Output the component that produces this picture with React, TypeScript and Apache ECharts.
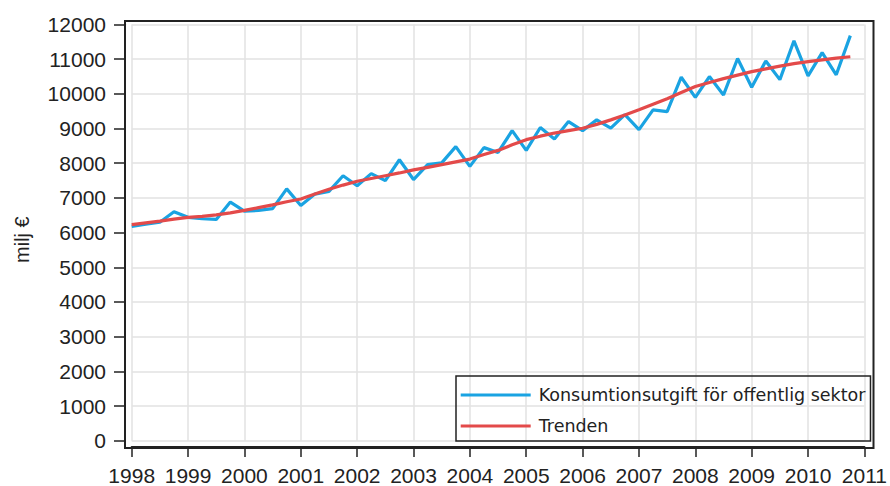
import React, { useEffect, useRef } from "react";
import * as echarts from "echarts";

const years = [1998, 1999, 2000, 2001, 2002, 2003, 2004, 2005, 2006, 2007, 2008, 2009, 2010];
const quarters = [1, 2, 3, 4];

const konsumtion = [
  6180, 6240, 6300, 6600,
  6440, 6400, 6380, 6880,
  6620, 6640, 6690, 7260,
  6780, 7110, 7190, 7640,
  7350, 7700, 7500, 8100,
  7530, 7960, 8010, 8480,
  7910, 8450, 8310, 8940,
  8370, 9030, 8700, 9200,
  8940, 9250, 9010, 9400,
  8970, 9540, 9490, 10480,
  9900, 10500, 9970, 11020,
  10190, 10950, 10410, 11530,
  10520, 11190, 10550, 11680,
];

const trenden = [
  6230, 6280, 6330, 6390,
  6440, 6470, 6510, 6570,
  6640, 6720, 6800, 6890,
  6970, 7110, 7250, 7370,
  7480, 7560, 7640, 7720,
  7810, 7880, 7960, 8040,
  8120, 8250, 8370, 8530,
  8680, 8780, 8870, 8940,
  9010, 9120, 9250, 9390,
  9540, 9700, 9860, 10040,
  10210, 10330, 10440, 10540,
  10640, 10720, 10800, 10870,
  10930, 10980, 11030, 11070,
];

const seriesNames = ["Konsumtionsutgift för offentlig sektor", "Trenden"];
const yAxisName = "milj €";

const xPositions: number[] = [];
years.forEach((y) => quarters.forEach((q) => xPositions.push(y + (q - 1) / 4)));

export default function App() {
  const ref = useRef<HTMLDivElement>(null);
  useEffect(() => {
    if (!ref.current) return;
    const chart = echarts.init(ref.current, null, { renderer: "svg" });
    const axisFont = { fontFamily: "Liberation Sans, Arial, sans-serif", fontSize: 21, color: "#222" };
    chart.setOption({
      animation: false,
      grid: { left: 131.7, right: 20, top: 24.5, bottom: 44.3, containLabel: false },
      xAxis: {
        type: "value",
        min: 1998,
        max: 2011,
        interval: 1,
        offset: 6.3,
        axisLine: { show: true, onZero: false, lineStyle: { color: "#222", width: 2 } },
        axisTick: { show: true, length: 10, lineStyle: { color: "#222", width: 1.5 } },
        axisLabel: { ...axisFont, margin: 18, formatter: (v: number) => String(v) },
        splitLine: { show: true, lineStyle: { color: "#e2e2e2", width: 1.5 } },
      },
      yAxis: {
        type: "value",
        min: 0,
        max: 12000,
        interval: 1000,
        offset: 6.7,
        name: yAxisName,
        nameLocation: "middle",
        nameGap: 93,
        nameTextStyle: {
          fontFamily: "Liberation Sans, Arial, sans-serif",
          fontSize: 20,
          color: "#222",
          padding: [0, 14, 0, 0],
        },
        axisLine: { show: true, onZero: false, lineStyle: { color: "#222", width: 2 } },
        axisTick: { show: true, length: 11, lineStyle: { color: "#222", width: 1.5 } },
        axisLabel: { ...axisFont, margin: 19, formatter: (v: number) => String(v) },
        splitLine: { show: true, lineStyle: { color: "#e2e2e2", width: 1.5 } },
      },
      legend: {
        show: true,
        orient: "vertical",
        left: 456,
        top: 376,
        borderColor: "#222",
        borderWidth: 1.5,
        padding: [10, 5, 6, 4.7],
        itemGap: 13,
        itemWidth: 70,
        itemHeight: 3,
        icon: "rect",
        textStyle: {
          fontFamily: "DejaVu Sans, sans-serif",
          fontSize: 17.5,
          lineHeight: 18,
          color: "#222",
          padding: [0, 0, 0, 3],
        },
        data: seriesNames,
      },
      graphic: [
        {
          type: "rect",
          shape: { x: 125, y: 21, width: 748.5, height: 427 },
          style: { fill: "none", stroke: "#222", lineWidth: 2 },
          silent: true,
          z: 100,
        },
      ],
      series: [
        {
          name: seriesNames[0],
          type: "line",
          showSymbol: false,
          color: "#1aa3e2",
          lineStyle: { width: 3.2, color: "#1aa3e2" },
          data: konsumtion.map((v, i) => [xPositions[i], v]),
        },
        {
          name: seriesNames[1],
          type: "line",
          showSymbol: false,
          color: "#e34a4a",
          lineStyle: { width: 3.2, color: "#e34a4a" },
          data: trenden.map((v, i) => [xPositions[i], v]),
        },
      ],
    });
    return () => chart.dispose();
  }, []);
  return (
    <div
      ref={ref}
      style={{ position: "fixed", left: 0, top: 0, width: 890, height: 486, background: "#fff" }}
    />
  );
}
